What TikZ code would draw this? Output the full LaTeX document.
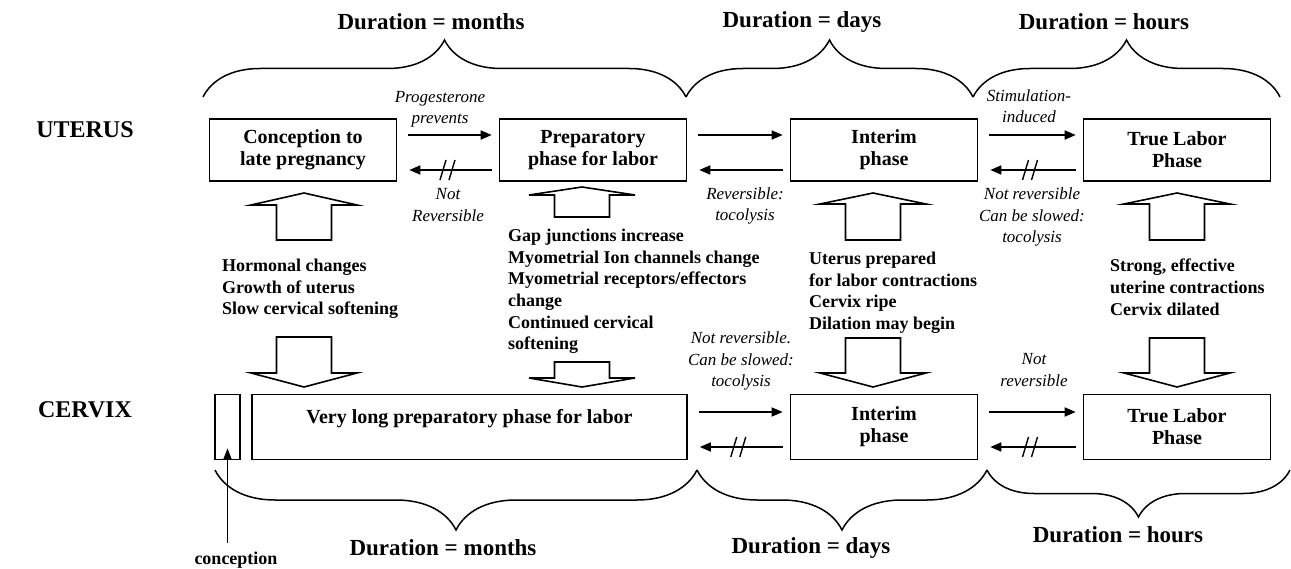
\documentclass[tikz,border=0pt]{standalone}
\usepackage{fontspec}
\setmainfont{Liberation Serif}
\usetikzlibrary{arrows.meta,decorations.pathreplacing,decorations.markings}

\tikzset{
  phase/.style={draw,line width=1.6pt,minimum width=187pt,minimum height=62pt,inner sep=0pt,
    align=center,font=\bfseries\fontsize{20}{22}\selectfont},
  rowname/.style={font=\bfseries\fontsize{24}{28}\selectfont},
  dur/.style={font=\bfseries\fontsize{23}{26}\selectfont},
  note/.style={align=center,font=\itshape\fontsize{17}{21.5}\selectfont},
  facts/.style={align=left,anchor=north west,inner sep=0pt,font=\bfseries\fontsize{18}{21.6}\selectfont},
  flow/.style={line width=1.6pt,-{Triangle[length=11pt,width=9pt]},shorten <=11pt,shorten >=7pt},
  back/.style={line width=1.6pt,-{Triangle[length=11pt,width=9pt]},shorten <=7pt,shorten >=12pt},
  plain/.style={},
  slash/.style={-,line width=1.4pt,shorten <=0pt,shorten >=0pt},
  blocked/.style={postaction={decorate,decoration={markings,mark=at position 0.5 with
    {\draw[slash] (-7pt,-10pt) -- (-1pt,10pt);
     \draw[slash] (2pt,-10pt) -- (8pt,10pt);}}}},
  fat/.style={draw,line width=1.6pt,line join=miter},
  span/.style={line width=1.5pt,decorate,decoration={brace,amplitude=#1}}
}

\begin{document}
\begin{tikzpicture}[x=1pt,y=-1pt]
\useasboundingbox (0,0) rectangle (1291,569);

% row names
\node[rowname] (uterus) at (85,130) {UTERUS};
\node[rowname] (cervix) at (85,410) {CERVIX};

% uterus phases
\node[phase] (u1) at (303,150) {Conception to\\late pregnancy};
\node[phase] (u2) at (593,150) {Preparatory\\phase for labor};
\node[phase] (u3) at (884,150) {Interim\\phase};
\node[phase] (u4) at (1177,150) {True Labor\\Phase};

% cervix phases
\node[phase,minimum width=25pt,minimum height=65pt] (c1) at (227.5,427) {};
\node[phase,minimum width=435pt,minimum height=65pt] (c2) at (469.5,427) {Very long preparatory phase for labor\\ };
\node[phase,minimum height=65pt] (c3) at (884,427) {Interim\\phase};
\node[phase,minimum height=65pt] (c4) at (1177,427) {True Labor\\Phase};

% forward and back arrows
\foreach \a/\b in {u1/u2,u2/u3,u3/u4,c2/c3,c3/c4}
  \draw[flow] ([yshift=15pt]\a.east) -- ([yshift=15pt]\b.west);
\foreach \a/\b/\s in {u2/u1/blocked,u3/u2/plain,u4/u3/blocked,c3/c2/blocked,c4/c3/blocked}
  \draw[back,\s] ([yshift=-20pt]\a.west) -- ([yshift=-20pt]\b.east);

% notes on the arrows
\node[note] (prog) at (440,109) {Progesterone\\prevents};
\node[note] (nrev1) at (448,205) {Not\\Reversible};
\node[note] (rev) at (745,206) {Reversible:\\tocolysis};
\node[note] (stim) at (1029,106) {Stimulation-\\induced};
\node[note] (nrev2) at (1032,217) {Not reversible\\Can be slowed:\\tocolysis};
\node[note] (nrev3) at (741,361) {Not reversible.\\Can be slowed:\\tocolysis};
\node[note] (nrev4) at (1034,370) {Not\\reversible};

% what changes in each phase
\node[facts] (f1) at (222,259) {Hormonal changes\\Growth of uterus\\Slow cervical softening};
\node[facts] (f2) at (508,229) {Gap junctions increase\\Myometrial Ion channels change\\Myometrial receptors/effectors\\change\\Continued cervical\\softening};
\node[facts] (f3) at (809,252) {Uterus prepared\\for labor contractions\\Cervix ripe\\Dilation may begin};
\node[facts] (f4) at (1110,259) {Strong, effective\\uterine contractions\\Cervix dilated};

% block arrows up and down
\foreach \c/\b/\h/\a in {304/240/205/193,582/217/195/187,873/240/204/193,1177/240/204/193}
  \draw[fat] (\c-27.5,\b) -- (\c-27.5,\h) -- (\c-53,\h) -- (\c,\a) -- (\c+53,\h)
    -- (\c+27.5,\h) -- (\c+27.5,\b) -- cycle;
\foreach \c/\t/\h/\a in {304/337/373/387,582/362/378/387,873/338/373/387,1177/338/373/387}
  \draw[fat] (\c-27.5,\t) -- (\c-27.5,\h) -- (\c-53,\h) -- (\c,\a) -- (\c+53,\h)
    -- (\c+27.5,\h) -- (\c+27.5,\t) -- cycle;

% durations
\draw[span=57pt] (203,97) -- (686,97);
\draw[span=57pt] (686,97) -- (973,97);
\draw[span=57pt] (973,97) -- (1280,97);
\node[dur] (tm) at (431,22) {Duration = months};
\node[dur] (td) at (802,22) {Duration = days};
\node[dur] (th) at (1104,22) {Duration = hours};

\draw[span=60pt] (697,470) -- (215,470);
\draw[span=60pt] (987,470) -- (697,470);
\draw[span=47pt] (1290,470) -- (987,470);
\node[dur] (bm) at (443,548) {Duration = months};
\node[dur] (bd) at (811,548) {Duration = days};
\node[dur] (bh) at (1118,535) {Duration = hours};

% conception
\node[font=\bfseries\fontsize{18}{20}\selectfont] (conc) at (236,560) {conception};
\draw[line width=1.6pt,-{Triangle[length=11pt,width=8pt]}] (c1.south |- 0,543) -- ([yshift=12pt]c1.south);
\end{tikzpicture}
\end{document}
